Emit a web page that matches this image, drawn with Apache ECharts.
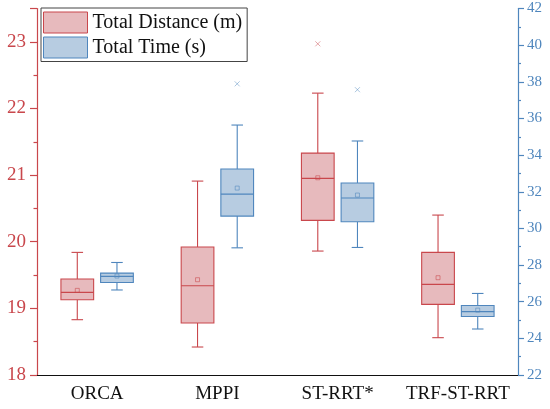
<!DOCTYPE html>
<html>
<head>
<meta charset="utf-8">
<script src="https://cdn.jsdelivr.net/npm/echarts@6/dist/echarts.min.js"></script>
<style>
  html, body { margin: 0; padding: 0; background: #fff; }
  #chart { width: 550px; height: 409px; }
</style>
</head>
<body>
<div id="chart"></div>
<script>
const categories = ['ORCA', 'MPPI', 'ST-RRT*', 'TRF-ST-RRT'];

// [min, Q1, median, Q3, max]
const distanceBoxes = [
  [18.83, 19.13, 19.24, 19.44, 19.84],
  [18.42, 18.78, 19.34, 19.92, 20.91],
  [19.86, 20.32, 20.95, 21.33, 22.23],
  [18.56, 19.06, 19.36, 19.84, 20.40]
];
const distanceMeans = [19.27, 19.43, 20.96, 19.46];
const distanceOutliers = [[2, 22.97]];

const timeBoxes = [
  [26.64, 27.05, 27.38, 27.56, 28.14],
  [28.94, 30.67, 31.87, 33.24, 35.64],
  [28.96, 30.36, 31.66, 32.48, 34.77],
  [24.51, 25.19, 25.46, 25.79, 26.45]
];
const timeMeans = [27.4, 32.2, 31.82, 25.54];
const timeOutliers = [[1, 37.89], [2, 37.57]];

const leftTicks = { min: 18, max: 23.5, interval: 1 };
const rightTicks = { min: 22, max: 42, interval: 2 };

const FONT = "'Liberation Serif', 'Times New Roman', serif";
const RED = '#c9474c';
const RED_FILL = '#e7babd';
const BLUE = '#4f86bd';
const BLUE_FILL = '#b7cce1';

// box drawn with the axis scales; side = -1 left of the category, +1 right
const makeRender = (side, stroke, fill) => (params, api) => {
  const i = api.value(0);
  const band = api.size([1, 0])[0];
  const cx = api.coord([i, api.value(1)])[0] + side * band * 0.165;
  const half = band * 0.136;
  const cap = band * 0.048;
  const y = [1, 2, 3, 4, 5, 6].map((d) => api.coord([i, api.value(d)])[1]);
  const lw = 1.1;
  const line = (x1, y1, x2, y2) => ({
    type: 'line',
    shape: { x1, y1, x2, y2 },
    style: { stroke, lineWidth: lw }
  });
  return {
    type: 'group',
    children: [
      line(cx, y[0], cx, y[1]),
      line(cx, y[3], cx, y[4]),
      line(cx - cap, y[0], cx + cap, y[0]),
      line(cx - cap, y[4], cx + cap, y[4]),
      {
        type: 'rect',
        shape: { x: cx - half, y: y[3], width: half * 2, height: y[1] - y[3] },
        style: { fill, stroke, lineWidth: lw }
      },
      line(cx - half, y[2], cx + half, y[2]),
      {
        type: 'rect',
        shape: { x: cx - 2, y: y[5] - 2, width: 4, height: 4 },
        style: { fill: 'none', stroke, lineWidth: 0.8, opacity: 0.7 }
      }
    ]
  };
};

const boxData = (boxes, means) => boxes.map((b, i) => [i, ...b, means[i]]);

const crossPath = 'path://M0,0L10,10M10,0L0,10';

const chart = echarts.init(document.getElementById('chart'), null, { renderer: 'canvas' });

chart.setOption({
  backgroundColor: '#fff',
  animation: false,
  textStyle: { fontFamily: FONT },
  legend: {
    orient: 'vertical',
    left: 41,
    top: 8,
    padding: [3.5, 5, 3, 2],
    itemGap: 3,
    itemWidth: 44,
    itemHeight: 21,
    borderColor: '#444',
    borderWidth: 1,
    backgroundColor: '#fff',
    textStyle: { fontFamily: FONT, fontSize: 20, color: '#111' },
    data: [
      { name: 'Total Distance (m)', icon: 'rect', itemStyle: { color: RED_FILL, borderColor: RED, borderWidth: 1 } },
      { name: 'Total Time (s)', icon: 'rect', itemStyle: { color: BLUE_FILL, borderColor: BLUE, borderWidth: 1 } }
    ]
  },
  grid: { left: 37, right: 32, top: 8.5, bottom: 34, containLabel: false },
  xAxis: {
    type: 'category',
    data: categories,
    axisLine: { lineStyle: { color: '#111', width: 1.2 } },
    axisTick: { alignWithLabel: true, length: 6, lineStyle: { color: '#111', width: 1.2 } },
    axisLabel: { interval: 0, fontFamily: FONT, fontSize: 19, color: '#111', margin: 10 },
    splitLine: { show: false }
  },
  yAxis: [
    {
      type: 'value',
      position: 'left',
      min: leftTicks.min,
      max: leftTicks.max,
      interval: leftTicks.interval,
      axisLine: { show: true, lineStyle: { color: RED, width: 1.2 } },
      axisTick: { show: true, length: 7, lineStyle: { color: RED, width: 1.2 } },
      minorTick: { show: true, splitNumber: 2, length: 3.5, lineStyle: { color: RED, width: 1.2 } },
      axisLabel: { fontFamily: FONT, fontSize: 19, color: RED, margin: 11, showMaxLabel: false },
      splitLine: { show: false }
    },
    {
      type: 'value',
      position: 'right',
      min: rightTicks.min,
      max: rightTicks.max,
      interval: rightTicks.interval,
      axisLine: { show: true, lineStyle: { color: BLUE, width: 1.2 } },
      axisTick: { show: true, length: 6, lineStyle: { color: BLUE, width: 1.2 } },
      minorTick: { show: true, splitNumber: 2, length: 3, lineStyle: { color: BLUE, width: 1.2 } },
      axisLabel: { fontFamily: FONT, fontSize: 15, color: BLUE, margin: 9 },
      splitLine: { show: false }
    }
  ],
  series: [
    {
      name: 'Total Distance (m)',
      type: 'custom',
      yAxisIndex: 0,
      renderItem: makeRender(-1, RED, RED_FILL),
      encode: { x: 0, y: [1, 2, 3, 4, 5] },
      itemStyle: { color: RED_FILL, borderColor: RED },
      data: boxData(distanceBoxes, distanceMeans)
    },
    {
      name: 'Total Time (s)',
      type: 'custom',
      yAxisIndex: 1,
      renderItem: makeRender(1, BLUE, BLUE_FILL),
      encode: { x: 0, y: [1, 2, 3, 4, 5] },
      itemStyle: { color: BLUE_FILL, borderColor: BLUE },
      data: boxData(timeBoxes, timeMeans)
    },
    {
      name: 'Total Distance (m)',
      type: 'scatter',
      yAxisIndex: 0,
      symbol: crossPath,
      symbolSize: 5,
      symbolOffset: [-19.8, 0],
      itemStyle: { color: 'none', borderColor: RED, borderWidth: 0.8, opacity: 0.6 },
      data: distanceOutliers
    },
    {
      name: 'Total Time (s)',
      type: 'scatter',
      yAxisIndex: 1,
      symbol: crossPath,
      symbolSize: 5,
      symbolOffset: [19.8, 0],
      itemStyle: { color: 'none', borderColor: BLUE, borderWidth: 0.8, opacity: 0.6 },
      data: timeOutliers
    }
  ]
});

window.addEventListener('resize', () => chart.resize());
</script>
</body>
</html>
